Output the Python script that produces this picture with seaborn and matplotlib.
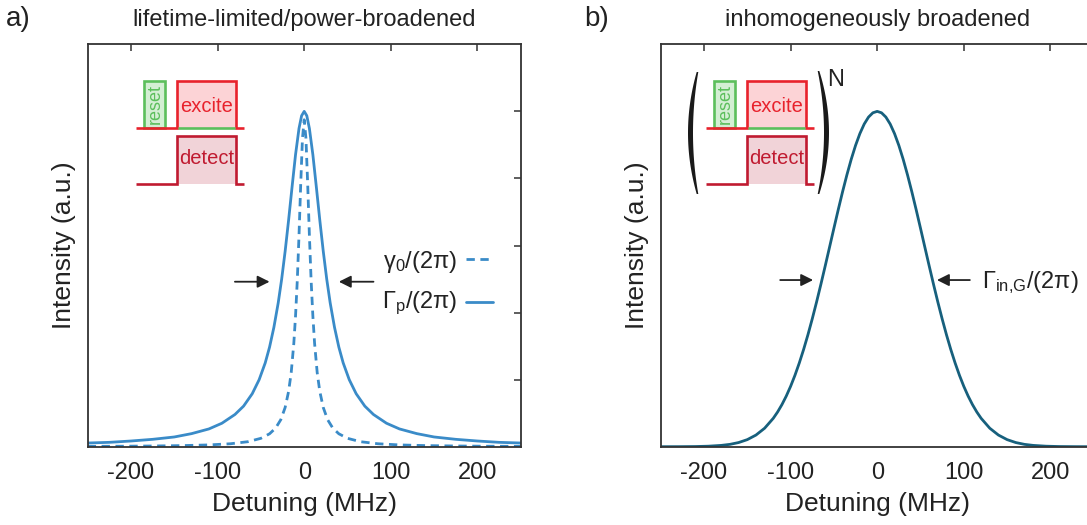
import numpy as np
import pandas as pd
import matplotlib
matplotlib.use("Agg")
import matplotlib.pyplot as plt
import seaborn as sns
from matplotlib.patches import Rectangle, Polygon

# ---------------- data ----------------
det_power = [-250, -225, -200, -175, -150, -130, -110, -95, -80, -70, -60, -52, -45, -40,
             -35, -30, -26, -22, -18, -14, -10, -6, -3, 0, 3, 6, 10, 14, 18, 22, 26, 30,
             35, 40, 45, 52, 60, 70, 80, 95, 110, 130, 150, 175, 200, 225, 250]
int_power = [0.011, 0.013, 0.017, 0.022, 0.029, 0.039, 0.053, 0.070, 0.096, 0.121, 0.158,
             0.200, 0.250, 0.297, 0.356, 0.429, 0.500, 0.583, 0.676, 0.775, 0.871, 0.949,
             0.987, 1.000, 0.987, 0.949, 0.871, 0.775, 0.676, 0.583, 0.500, 0.429, 0.356,
             0.297, 0.250, 0.200, 0.158, 0.121, 0.096, 0.070, 0.053, 0.039, 0.029, 0.022,
             0.017, 0.013, 0.011]

det_life = [-250, -210, -175, -140, -110, -85, -65, -50, -40, -33, -27, -22, -18, -15, -12,
            -10, -8, -6, -4, -2, 0, 2, 4, 6, 8, 10, 12, 15, 18, 22, 27, 33, 40, 50, 65, 85,
            110, 140, 175, 210, 250]
int_life = [0.0010, 0.0014, 0.0021, 0.0033, 0.0053, 0.0088, 0.0149, 0.0250, 0.0385, 0.0555,
            0.0807, 0.117, 0.165, 0.221, 0.308, 0.390, 0.495, 0.630, 0.785, 0.920, 0.975,
            0.920, 0.785, 0.630, 0.495, 0.390, 0.308, 0.221, 0.165, 0.117, 0.0807, 0.0555,
            0.0385, 0.0250, 0.0149, 0.0088, 0.0053, 0.0033, 0.0021, 0.0014, 0.0010]

det_inhom = [-250, -230, -210, -195, -180, -170, -160, -150, -140, -130, -120, -115, -110,
             -105, -100, -95, -90, -85, -80, -75, -70, -65, -60, -55, -50, -45, -40, -35,
             -30, -25, -20, -15, -10, -5, 0, 5, 10, 15, 20, 25, 30, 35, 40, 45, 50, 55, 60,
             65, 70, 75, 80, 85, 90, 95, 100, 105, 110, 115, 120, 130, 140, 150, 160, 170,
             180, 195, 210, 230, 250]
int_inhom = [0.0000, 0.0001, 0.0005, 0.0015, 0.0039, 0.0070, 0.0124, 0.0211, 0.0347, 0.0551,
             0.0847, 0.1036, 0.1256, 0.1510, 0.1800, 0.2128, 0.2494, 0.2897, 0.3337, 0.3812,
             0.4316, 0.4846, 0.5394, 0.5953, 0.6514, 0.7067, 0.7601, 0.8105, 0.8570, 0.8984,
             0.9337, 0.9622, 0.9830, 0.9957, 1.0000, 0.9957, 0.9830, 0.9622, 0.9337, 0.8984,
             0.8570, 0.8105, 0.7601, 0.7067, 0.6514, 0.5953, 0.5394, 0.4846, 0.4316, 0.3812,
             0.3337, 0.2897, 0.2494, 0.2128, 0.1800, 0.1510, 0.1256, 0.1036, 0.0847, 0.0551,
             0.0347, 0.0211, 0.0124, 0.0070, 0.0039, 0.0015, 0.0005, 0.0001, 0.0000]

x_ticks = [-200, -100, 0, 100, 200]
x_ticklabels = ["-200", "-100", "0", "100", "200"]
y_ticks = [0.2, 0.4, 0.6, 0.8, 1.0]

titles = ["lifetime-limited/power-broadened", "inhomogeneously broadened"]
panel_letters = ["a)", "b)"]

# ---------------- style ----------------
sns.set_theme(style="white")
plt.rcParams["font.family"] = ["Liberation Sans", "DejaVu Sans"]
plt.rcParams["mathtext.fontset"] = "custom"
plt.rcParams["mathtext.rm"] = "Liberation Sans"
plt.rcParams["mathtext.it"] = "Liberation Sans:italic"
plt.rcParams["mathtext.bf"] = "Liberation Sans:bold"

C_LEFT = "#3a8bc8"
C_RIGHT = "#17607d"
TXT = "#222222"
RED = "#e8222c"
DRED = "#c01a30"
GREEN = "#5cbf5c"

W, H = 1087, 525
fig = plt.figure(figsize=(W / 100, H / 100), dpi=100)

ax_l = fig.add_axes([87.7 / W, (H - 446.7) / H, 433 / W, 402.4 / H])
ax_r = fig.add_axes([660.7 / W, (H - 446.7) / H, 433 / W, 402.4 / H])

df_p = pd.DataFrame({"det": det_power, "I": int_power})
df_l = pd.DataFrame({"det": det_life, "I": int_life})
df_i = pd.DataFrame({"det": det_inhom, "I": int_inhom})

sns.lineplot(data=df_l, x="det", y="I", ax=ax_l, color=C_LEFT, lw=2.0,
             estimator=None, sort=False)
ax_l.lines[-1].set_linestyle((0, (3.0, 2.0)))
sns.lineplot(data=df_p, x="det", y="I", ax=ax_l, color=C_LEFT, lw=2.0,
             estimator=None, sort=False)
sns.lineplot(data=df_i, x="det", y="I", ax=ax_r, color=C_RIGHT, lw=2.0,
             estimator=None, sort=False)
for ax in (ax_l, ax_r):
    for ln in ax.lines:
        ln.set_solid_joinstyle("round")
        ln.set_dash_joinstyle("round")

for ax, title in zip([ax_l, ax_r], titles):
    ax.set_xlim(-250, 250)
    ax.set_ylim(0, 1.2)
    ax.set_xticks(x_ticks)
    ax.set_xticklabels(x_ticklabels)
    ax.set_yticks(y_ticks)
    ax.set_yticklabels([])
    ax.tick_params(axis="both", direction="in", length=5, width=1.1, color="#333333",
                   top=True, right=True, labelsize=17, labelcolor=TXT)
    ax.tick_params(axis="x", pad=11)
    for sp in ax.spines.values():
        sp.set_color("#333333")
        sp.set_linewidth(1.3)
    ax.set_xlabel("Detuning (MHz)", fontsize=19, color=TXT, labelpad=6)
    ax.set_ylabel("Intensity (a.u.)", fontsize=19, color=TXT, labelpad=5)
    ax.set_facecolor("white")

# titles and panel letters
fig.text(304.2 / W, 1 - 25.8 / H, titles[0], ha="center", va="baseline", fontsize=17, color=TXT)
fig.text(877.3 / W, 1 - 25.8 / H, titles[1], ha="center", va="baseline", fontsize=17, color=TXT)
fig.text(6 / W, 1 - 26.5 / H, panel_letters[0], ha="left", va="baseline", fontsize=20, color=TXT)
fig.text(584 / W, 1 - 26.5 / H, panel_letters[1], ha="left", va="baseline", fontsize=20, color=TXT)

# arrows (half-maximum markers)
arrow_kw = dict(arrowstyle="-|>", color=TXT, lw=1.3, mutation_scale=18, shrinkA=0, shrinkB=0)
ax_l.annotate("", xy=(-40, 0.492), xytext=(-80, 0.492), arrowprops=arrow_kw)
ax_l.annotate("", xy=(40, 0.492), xytext=(80, 0.492), arrowprops=arrow_kw)
ax_r.annotate("", xy=(-74, 0.497), xytext=(-112, 0.497), arrowprops=arrow_kw)
ax_r.annotate("", xy=(69, 0.497), xytext=(107, 0.497), arrowprops=arrow_kw)

ax_r.text(120.5, 0.472, r"Γ$_\mathregular{in{,}G}$/(2π)", ha="left", va="baseline",
          fontsize=17, color=TXT)

# legend (text left, sample right)
ax_l.text(0.853, 0.4446, r"γ$_\mathregular{0}$/(2π)", transform=ax_l.transAxes,
          ha="right", va="baseline", fontsize=17, color=TXT)
ax_l.text(0.853, 0.3452, r"Γ$_\mathregular{p}$/(2π)", transform=ax_l.transAxes,
          ha="right", va="baseline", fontsize=17, color=TXT)
ax_l.plot([0.8737, 0.936], [0.4664, 0.4664], transform=ax_l.transAxes, color=C_LEFT,
          lw=2.0, ls=(0, (3.0, 2.0)), clip_on=False)
ax_l.plot([0.8737, 0.936], [0.3603, 0.3603], transform=ax_l.transAxes, color=C_LEFT,
          lw=2.0, clip_on=False)

# ---------------- pulse-sequence insets (overlay in pixel coordinates) ----------------
ov = fig.add_axes([0, 0, 1, 1], zorder=5)
ov.set_xlim(0, W)
ov.set_ylim(H, 0)
ov.axis("off")
ov.patch.set_alpha(0)

LW = 1.9


def draw_inset(dx):
    base1, top1 = 128.3, 80.7
    base2, top2 = 184.0, 136.0
    x0, xr, xf, x1 = 136 + dx, 176.7 + dx, 236 + dx, 244 + dx
    # reset box
    ov.add_patch(Rectangle((144 + dx, top1), 21, base1 - top1, fc="#d4efd4", ec=GREEN,
                           lw=LW, joinstyle="miter"))
    ov.text(155 + dx, 104, "reset", rotation=90, ha="center", va="center",
            fontsize=13, color=GREEN)
    # excite pulse
    ov.add_patch(Rectangle((xr, top1), xf - xr, base1 - top1, fc="#fcd3d6", ec="none"))
    ov.plot([x0, xr, xr, xf, xf, x1], [base1, base1, top1, top1, base1, base1],
            color=RED, lw=LW, solid_joinstyle="miter", solid_capstyle="butt")
    ov.plot([xr + 1, xf - 1], [base1, base1], color=GREEN, lw=LW, solid_capstyle="butt")
    ov.text((xr + xf) / 2 + 0.5, 106.5, "excite", ha="center", va="center", fontsize=14.5,
            color=RED)
    # detect pulse
    ov.add_patch(Rectangle((xr, top2), xf - xr, base2 - top2, fc="#f1d3d8", ec="none"))
    ov.plot([x0, xr, xr, xf, xf, x1], [base2, base2, top2, top2, base2, base2],
            color=DRED, lw=LW, solid_joinstyle="miter", solid_capstyle="butt")
    ov.text((xr + xf) / 2 + 0.5, 158.5, "detect", ha="center", va="center", fontsize=14.5,
            color=DRED)


draw_inset(0)
draw_inset(570)


def paren(x_end, x_mid, y_top, y_bot, w_end=0.8, w_mid=2.5):
    t = np.linspace(-1, 1, 60)
    y = (y_top + y_bot) / 2 + t * (y_bot - y_top) / 2
    xc = x_end + (x_mid - x_end) * (1 - t ** 2)
    hw = w_end + (w_mid - w_end) * (1 - t ** 2)
    pts = np.vstack([np.column_stack([xc - hw, y]), np.column_stack([xc + hw, y])[::-1]])
    ov.add_patch(Polygon(pts, closed=True, fc="#1a1a1a", ec="none"))


paren(697.5, 690.5, 72, 194)
paren(818.5, 826.5, 71, 194)
ov.text(835.6, 80, "N", ha="center", va="center", fontsize=17, color=TXT)

fig.savefig("out.png", dpi=100, facecolor="white")
